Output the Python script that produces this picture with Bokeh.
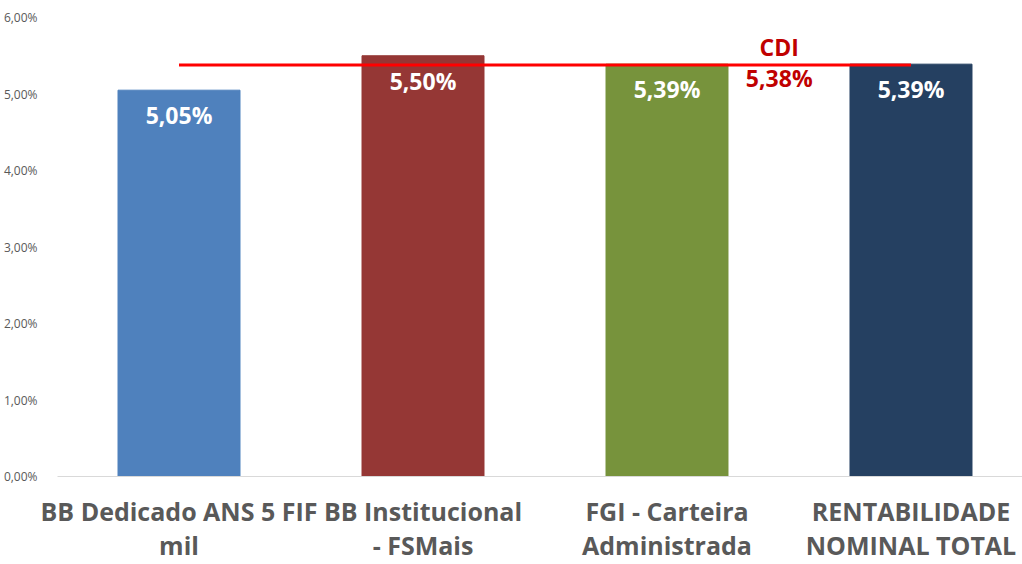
from bokeh.plotting import figure
from bokeh.models import Range1d, FixedTicker, CustomJSTickFormatter, ColumnDataSource
from bokeh.core.properties import value
from bokeh.embed import file_html
from bokeh.resources import INLINE

categories = ["BB Dedicado ANS 5 FIF\nmil", "BB Institucional\n- FSMais",
              "FGI - Carteira\nAdministrada", "RENTABILIDADE\nNOMINAL TOTAL"]
returns = [0.0505, 0.0550, 0.0539, 0.0539]
return_labels = ["5,05%", "5,50%", "5,39%", "5,39%"]
colors = ["#4f81bd", "#953735", "#77933c", "#254061"]
cdi = 0.0538
cdi_label = "5,38%"
y_ticks = [0.0, 0.01, 0.02, 0.03, 0.04, 0.05, 0.06]

FONT = "Open Sans"
xs = list(range(len(categories)))

p = figure(width=1022, height=564, output_backend="svg", toolbar_location=None,
           x_range=Range1d(-0.498, 3.457), y_range=Range1d(0, 0.06),
           min_border_left=57, min_border_right=0, min_border_top=17, min_border_bottom=87)
p.outline_line_color = None
p.xgrid.visible = False
p.ygrid.visible = False

src = ColumnDataSource(dict(x=xs, top=returns, lab=return_labels, color=colors))
p.vbar(x="x", top="top", bottom=0, width=0.5, color="color", source=src)

p.text(x="x", y="top", text="lab", source=src, text_color="white",
       text_font=value(FONT), text_font_style="bold", text_font_size="23px",
       text_align="center", text_baseline="middle", y_offset=25)

p.line(x=[xs[0], xs[-1]], y=[cdi, cdi], line_color="#ff0000", line_width=3)
p.text(x=[2.46], y=[cdi], text=["CDI"], text_color="#c00000",
       text_font=value(FONT), text_font_style="bold", text_font_size="23px",
       text_align="center", text_baseline="middle", y_offset=-18)
p.text(x=[2.46], y=[cdi], text=[cdi_label], text_color="#c00000",
       text_font=value(FONT), text_font_style="bold", text_font_size="23px",
       text_align="center", text_baseline="middle", y_offset=13)

# y axis
p.yaxis.ticker = FixedTicker(ticks=y_ticks)
p.yaxis.formatter = CustomJSTickFormatter(code="return (tick*100).toFixed(2).replace('.', ',') + '%';")
p.yaxis.axis_line_color = None
p.yaxis.major_tick_line_color = None
p.yaxis.minor_tick_line_color = None
p.yaxis.major_label_text_font = FONT
p.yaxis.major_label_text_font_size = "12px"
p.yaxis.major_label_text_color = "#595959"
p.yaxis.major_label_standoff = 14

# x axis
p.xaxis.ticker = FixedTicker(ticks=xs)
p.xaxis.major_label_overrides = {i: c for i, c in zip(xs, categories)}
p.xaxis.axis_line_color = "#d9d9d9"
p.xaxis.axis_line_width = 1
p.xaxis.major_tick_line_color = None
p.xaxis.minor_tick_line_color = None
p.xaxis.major_label_text_font = FONT
p.xaxis.major_label_text_font_style = "bold"
p.xaxis.major_label_text_font_size = "25px"
p.xaxis.major_label_text_color = "#595959"
p.xaxis.major_label_text_line_height = 1.0
p.xaxis.major_label_standoff = 11

open("out.html", "w").write(file_html(p, INLINE))
